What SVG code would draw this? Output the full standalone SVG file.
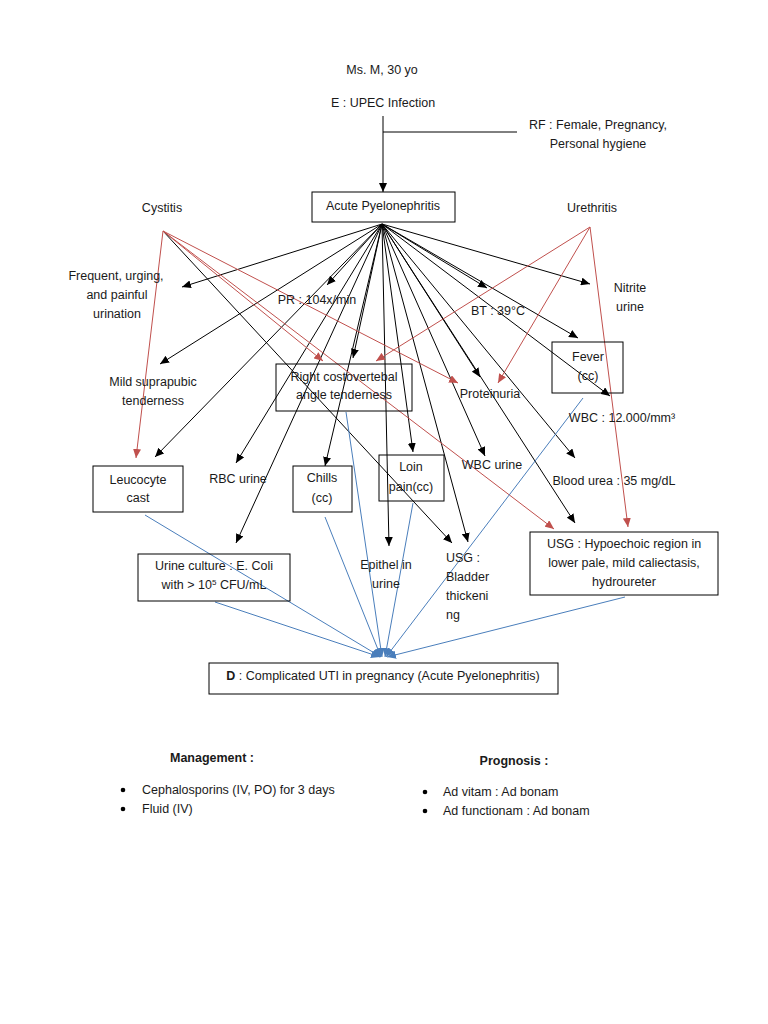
<svg xmlns="http://www.w3.org/2000/svg" width="768" height="1024" viewBox="0 0 768 1024">
<style>
text{font-family:"Liberation Sans",Arial,sans-serif;font-size:12.5px;fill:#1a1a1a;text-anchor:middle}
.l{text-anchor:start}
.b{font-weight:bold}
.box{fill:none;stroke:#000;stroke-width:1}
.k{stroke:#000;stroke-width:1;fill:none;marker-end:url(#ak)}
.r{stroke:#c0504d;stroke-width:1;fill:none;marker-end:url(#ar)}
.u{stroke:#4a7ebb;stroke-width:1;fill:none;marker-end:url(#ab)}
.p{stroke:#000;stroke-width:1;fill:none}
</style>
<defs>
<marker id="ak" markerUnits="userSpaceOnUse" markerWidth="9" markerHeight="8" refX="9" refY="4" orient="auto"><path d="M0,0 L9,4 L0,8 z" fill="#000"/></marker>
<marker id="ar" markerUnits="userSpaceOnUse" markerWidth="9" markerHeight="8" refX="9" refY="4" orient="auto"><path d="M0,0 L9,4 L0,8 z" fill="#c0504d"/></marker>
<marker id="ab" markerUnits="userSpaceOnUse" markerWidth="9" markerHeight="8" refX="9" refY="4" orient="auto"><path d="M0,0 L9,4 L0,8 z" fill="#4a7ebb"/></marker>
</defs>
<rect width="768" height="1024" fill="#fff"/>

<g id="connectors">
<path class="k" d="M383,116 L383,192"/>
<path class="p" d="M383,132 L517,132"/>
<path class="k" d="M382,224 L182,287"/>
<path class="k" d="M382,224 L327,285"/>
<path class="k" d="M382,224 L160,364"/>
<path class="k" d="M382,224 L155,457"/>
<path class="k" d="M382,224 L236,463"/>
<path class="k" d="M382,224 L236,543"/>
<path class="k" d="M382,224 L353,358"/>
<path class="k" d="M382,224 L325,466"/>
<path class="k" d="M382,224 L389,546"/>
<path class="k" d="M382,224 L413,452"/>
<path class="k" d="M382,224 L468,542"/>
<path class="k" d="M382,224 L485,456"/>
<path class="k" d="M382,224 L480,377"/>
<path class="k" d="M382,224 L575,523"/>
<path class="k" d="M382,224 L575,458"/>
<path class="k" d="M382,224 L610,396"/>
<path class="k" d="M382,224 L487,288"/>
<path class="k" d="M382,224 L578,338"/>
<path class="k" d="M382,224 L590,284"/>
<path class="k" d="M163,231 L452,543"/>
<path class="r" d="M163,231 L136,458"/>
<path class="r" d="M163,231 L323,361"/>
<path class="r" d="M163,231 L458,383"/>
<path class="r" d="M163,231 L554,529"/>
<path class="r" d="M590,227 L376,361"/>
<path class="r" d="M590,227 L498,383"/>
<path class="r" d="M590,227 L628,527"/>
<path class="u" d="M145,515 L381,657"/>
<path class="u" d="M215,602 L380,657"/>
<path class="u" d="M346,412 L382,657"/>
<path class="u" d="M325,517 L381,657"/>
<path class="u" d="M413,503 L385,657"/>
<path class="u" d="M583,398 L386,657"/>
<path class="u" d="M625,597 L387,657"/>
</g>

<g id="n-patient"><text x="382" y="74">Ms. M, 30 yo</text></g>
<g id="n-etiology"><text x="383" y="107">E : UPEC Infection</text></g>
<g id="n-rf"><text x="598" y="129">RF : Female, Pregnancy,</text><text x="598" y="148">Personal hygiene</text></g>
<g id="n-ap"><rect class="box" x="312" y="192" width="143" height="30"/><text x="383" y="210">Acute Pyelonephritis</text></g>
<g id="n-cystitis"><text x="162" y="212">Cystitis</text></g>
<g id="n-urethritis"><text x="592" y="212">Urethritis</text></g>
<g id="n-frequent"><text x="116" y="280">Frequent, urging,</text><text x="117" y="299">and painful</text><text x="117" y="318">urination</text></g>
<g id="n-pr"><text x="317" y="304">PR : 104x/min</text></g>
<g id="n-bt"><text x="498" y="315">BT : 39°C</text></g>
<g id="n-nitrite"><text x="630" y="292">Nitrite</text><text x="630" y="311">urine</text></g>
<g id="n-mild"><text x="153" y="386">Mild suprapubic</text><text x="153" y="405">tenderness</text></g>
<g id="n-cva"><rect class="box" x="276" y="364" width="136" height="47"/><text x="344" y="381">Right costovertebal</text><text x="344" y="399">angle tenderness</text></g>
<g id="n-protein"><text x="490" y="398">Proteinuria</text></g>
<g id="n-fever"><rect class="box" x="552" y="342" width="71" height="51"/><text x="588" y="361">Fever</text><text x="588" y="380">(cc)</text></g>
<g id="n-wbc"><text x="622" y="422">WBC : 12.000/mm³</text></g>
<g id="n-leuco"><rect class="box" x="93" y="466" width="90" height="46"/><text x="138" y="484">Leucocyte</text><text x="138" y="502">cast</text></g>
<g id="n-rbc"><text x="238" y="483">RBC urine</text></g>
<g id="n-chills"><rect class="box" x="293" y="466" width="59" height="46"/><text x="322" y="482">Chills</text><text x="322" y="502">(cc)</text></g>
<g id="n-loin"><rect class="box" x="379" y="455" width="65" height="46"/><text x="411" y="471">Loin</text><text x="411" y="491">pain(cc)</text></g>
<g id="n-wbcu"><text x="492" y="469">WBC urine</text></g>
<g id="n-urea"><text x="614" y="485">Blood urea : 35 mg/dL</text></g>
<g id="n-culture"><rect class="box" x="138" y="554" width="152" height="47"/><text x="214" y="570">Urine culture : E. Coli</text><text x="214" y="589">with &gt; 10<tspan dy="-4" font-size="8">5</tspan><tspan dy="4"> CFU/mL</tspan></text></g>
<g id="n-epithel"><text x="386" y="569">Epithel in</text><text x="386" y="588">urine</text></g>
<g id="n-usgb"><text class="l" x="446" y="562">USG :</text><text class="l" x="446" y="581">Bladder</text><text class="l" x="446" y="600">thickeni</text><text class="l" x="446" y="619">ng</text></g>
<g id="n-usgh"><rect class="box" x="530" y="532" width="188" height="63"/><text x="624" y="548">USG : Hypoechoic region in</text><text x="624" y="567">lower pale, mild caliectasis,</text><text x="624" y="586">hydroureter</text></g>
<g id="n-diag"><rect class="box" x="209" y="663" width="349" height="31"/><text x="383" y="680"><tspan class="b">D</tspan> : Complicated UTI in pregnancy (Acute Pyelonephritis)</text></g>
<g id="n-mgmt"><text class="b" x="212" y="762">Management :</text>
<circle cx="123" cy="790" r="2.3" fill="#000"/><text class="l" x="142" y="794">Cephalosporins (IV, PO) for 3 days</text>
<circle cx="123" cy="809" r="2.3" fill="#000"/><text class="l" x="142" y="813">Fluid (IV)</text></g>
<g id="n-prog"><text class="b" x="514" y="765">Prognosis :</text>
<circle cx="425" cy="792" r="2.3" fill="#000"/><text class="l" x="443" y="796">Ad vitam : Ad bonam</text>
<circle cx="425" cy="811" r="2.3" fill="#000"/><text class="l" x="443" y="815">Ad functionam : Ad bonam</text></g>
</svg>
